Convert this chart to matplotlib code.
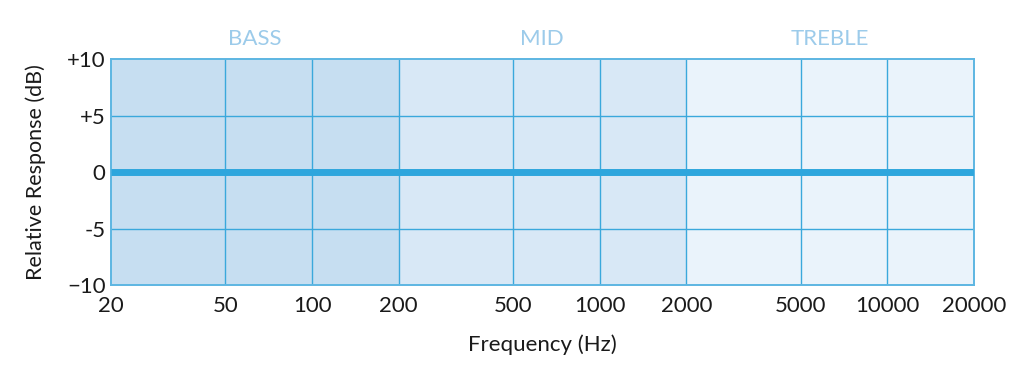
import matplotlib
matplotlib.use("Agg")
import matplotlib.pyplot as plt

plt.rcParams['font.family'] = ['Lato', 'DejaVu Sans']

# data
freq_ticks = [20, 50, 100, 200, 500, 1000, 2000, 5000, 10000, 20000]
db_ticks = [-10, -5, 0, 5, 10]
db_labels = ["\u221210", "-5", "0", "+5", "+10"]
bands = ["BASS", "MID", "TREBLE"]
band_edges = [(20, 200), (200, 2000), (2000, 20000)]
band_centers = [63, 630, 6300]
band_colors = ["#C6DEF1", "#D8E8F6", "#EAF3FB"]
resp_freq = [20, 20000]
resp_db = [0, 0]

GRID = "#3AA8DC"
LINE = "#2EA6DD"
LABEL_BLUE = "#9CCBEA"
TEXT = "#1A1A1A"

fig = plt.figure(figsize=(10.11, 3.81), dpi=100)
ax = fig.add_axes([0.1098, 0.252, 0.8536, 0.593])
ax.set_xscale('log')
ax.set_xlim(20, 20000)
ax.set_ylim(-10, 10)

for (lo, hi), c in zip(band_edges, band_colors):
    ax.axvspan(lo, hi, color=c, lw=0, zorder=0)

for f in freq_ticks[1:-1]:
    ax.axvline(f, color=GRID, lw=1.0, zorder=1)
for d in db_ticks[1:-1]:
    ax.axhline(d, color=GRID, lw=1.0, zorder=1)

ax.plot(resp_freq, resp_db, color=LINE, lw=5, solid_capstyle='butt', zorder=3)

for name, cx in zip(bands, band_centers):
    ax.text(cx, 1.045, name, transform=ax.get_xaxis_transform(), ha='center', va='bottom',
            fontsize=16, color=LABEL_BLUE)

ax.set_xticks(freq_ticks)
ax.set_xticklabels([str(f) for f in freq_ticks])
ax.minorticks_off()
ax.set_yticks(db_ticks)
ax.set_yticklabels(db_labels)
ax.tick_params(axis='both', length=0, labelsize=16, colors=TEXT)
ax.tick_params(axis='x', pad=8)
ax.tick_params(axis='y', pad=4)

for s in ax.spines.values():
    s.set_color("#5DB6E2")
    s.set_linewidth(1.4)

ax.set_xlabel("Frequency (Hz)", fontsize=16, color=TEXT, labelpad=13)
ax.set_ylabel("Relative Response (dB)", fontsize=15.5, color=TEXT, labelpad=15)

fig.savefig("out.png", dpi=100, facecolor='white')
